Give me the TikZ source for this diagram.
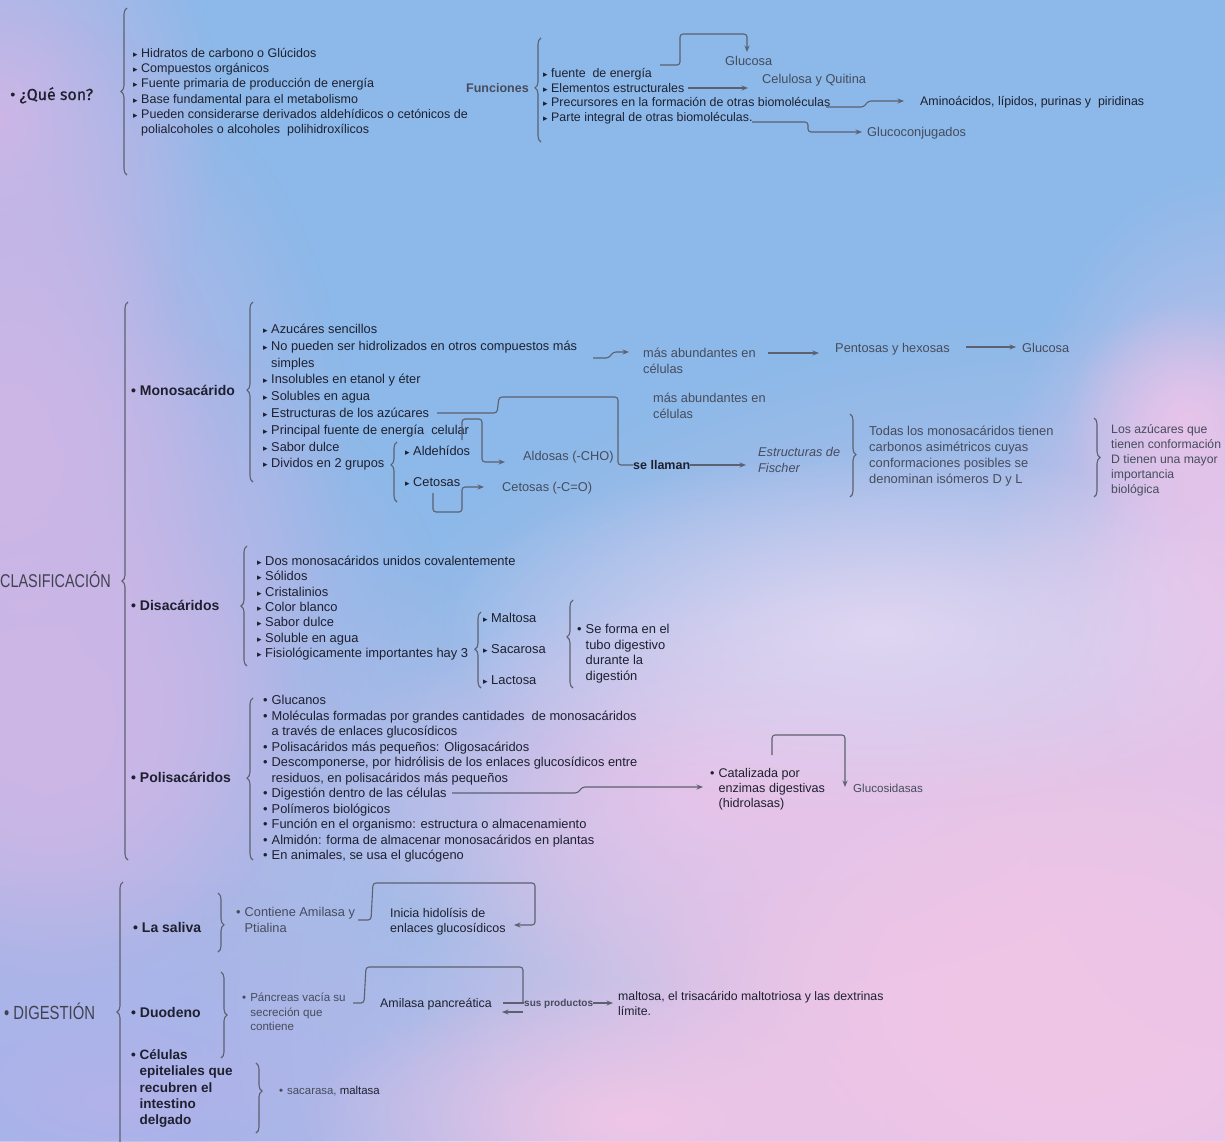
\documentclass[tikz,border=0pt]{standalone}
\usepackage{fontspec}
\setmainfont{Liberation Sans}
\newfontfamily\condfont[FakeStretch=0.78]{Liberation Sans}
\newfontfamily\headfont[FakeBold=0.6]{Fira Sans}
\newfontfamily\symfont{DejaVu Sans}
\usetikzlibrary{arrows.meta,decorations.pathreplacing,fadings}
\definecolor{bgblue}{HTML}{8CB9E9}
\definecolor{ink}{HTML}{1E2030}
\definecolor{soft}{HTML}{464C5C}
\definecolor{wire}{HTML}{5C6170}
\definecolor{pinkA}{HTML}{F0C6E6}
\definecolor{pinkB}{HTML}{E8C4EA}
\definecolor{lavA}{HTML}{CDB6E6}
\definecolor{lavB}{HTML}{B2B2EA}
\definecolor{whiteA}{HTML}{DED6F2}
\tikzfading[name=cloudfade, inner color=transparent!0, outer color=transparent!100]
\newcommand\setfs[2]{\fontsize{#1}{#2}\selectfont}
\newcommand\tri{{\symfont\fontsize{9}{9}\selectfont ▸}\hspace{3.5pt}}
\newcommand\dotb{•\hspace{4pt}}
\tikzset{
  txt/.style={inner sep=0pt, anchor=base west, align=left, text=ink},
  ln/.style={draw=wire, line width=1.1pt, rounded corners=3pt},
  arr/.style={ln, -{Stealth[length=6.5pt,width=5pt]}},
  brc/.style={draw=wire, line width=1.1pt, decorate, decoration={brace, amplitude=6pt}},
  hd/.style={txt, font=\bfseries\setfs{14}{16}},
  fq/.style={txt, font=\setfs{12.5}{15.2}},
  ff/.style={txt, font=\setfs{12.4}{14.5}},
  fm/.style={txt, font=\setfs{12.8}{16.8}},
  fd/.style={txt, font=\setfs{12.9}{15.33}},
  fp/.style={txt, font=\setfs{12.85}{15.5}},
  gr/.style={txt, text=soft, font=\setfs{12.8}{16}},
  cloud/.style={path fading=cloudfade},
}
\begin{document}
\begin{tikzpicture}[x=1pt,y=-1pt]
\useasboundingbox (0,0) rectangle (1225,1141);
% background
\fill[bgblue] (0,0) rectangle (1225,1141);
\fill[lavA, cloud] (0,120) ellipse (220 and 290);
\fill[lavA, cloud] (10,450) ellipse (340 and 440);
\fill[lavA, cloud] (10,450) ellipse (200 and 300);
\fill[lavA, cloud] (60,730) ellipse (420 and 420);
\fill[lavA, cloud] (40,730) ellipse (260 and 260);
\fill[lavB, cloud] (120,1100) ellipse (520 and 220);
\fill[pinkA, cloud] (1090,1000) ellipse (900 and 680);
\fill[pinkA, cloud] (1060,1010) ellipse (640 and 480);
\fill[pinkA, cloud] (1060,1000) ellipse (420 and 300);
\fill[pinkB, cloud] (740,790) ellipse (420 and 200);
\fill[pinkB, cloud] (1225,610) ellipse (240 and 440);
\fill[pinkB, cloud] (1225,610) ellipse (150 and 260);
\fill[whiteA, cloud] (880,630) ellipse (440 and 180);
\fill[pinkB, cloud] (1185,420) ellipse (120 and 120);
\fill[pinkA, cloud] (640,1120) ellipse (340 and 140);

% ===== ¿Qué son?
\node[txt, font=\headfont\setfs{16}{18}] (que) at (10,100) {• ¿Qué son?};
\draw[brc] (127,175) -- (127,8);
\node[fq] (qlist) at (133,133.5) {\tri Hidratos de carbono o Glúcidos\\
\tri Compuestos orgánicos\\
\tri Fuente primaria de producción de energía\\
\tri Base fundamental para el metabolismo\\
\tri Pueden considerarse derivados aldehídicos o cetónicos de\\
\hphantom{\tri}polialcoholes o alcoholes\ \ polihidroxílicos};

% ===== Funciones
\node[txt, text=soft, font=\bfseries\setfs{12.5}{15}] (fun) at (466,92.5) {Funciones};
\draw[brc, decoration={aspect=0.52}] (541,142) -- (541,38);
\node[ff] (flist) at (543,121) {\tri fuente\ \ de energía\\
\tri Elementos estructurales\\
\tri Precursores en la formación de otras biomoléculas\\
\tri Parte integral de otras biomoléculas.};
\node[gr] (gluc1) at (725,65.5) {Glucosa};
\node[gr] (celu) at (762,83) {Celulosa y Quitina};
\node[txt, font=\setfs{12.4}{15}] (amino) at (920,105.5) {Aminoácidos, lípidos, purinas y\ \ piridinas};
\node[gr] (gconj) at (867,136.5) {Glucoconjugados};
\coordinate (f1s) at (660,65); \coordinate (f1e) at (747,52);
\draw[arr] (f1s) -- (680,65) -- (680,34) -- (747,34) -- (f1e);
\coordinate (f2s) at (688,88); \coordinate (f2e) at (748,88);
\draw[arr] (f2s) -- (f2e);
\coordinate (f3s) at (826,107); \coordinate (f3e) at (904,101);
\draw[arr] (f3s) -- (864,107) -- (868,101) -- (f3e);
\coordinate (f4s) at (752,122); \coordinate (f4e) at (862,132);
\draw[arr] (f4s) -- (808,122) -- (808,132) -- (f4e);

% ===== CLASIFICACIÓN
\node[txt, anchor=base east, text=ink!85, font=\condfont\setfs{18.5}{20}] (clas) at (111,587) {CLASIFICACIÓN};
\draw[brc] (128,860) -- (128,302);

% Monosacárido
\node[hd] (mono) at (131,395) {• Monosacárido};
\draw[brc, decoration={aspect=0.51}] (253,482) -- (253,302);
\node[fm] (mlist) at (263,467.9) {\tri Azucáres sencillos\\
\tri No pueden ser hidrolizados en otros compuestos más\\
\hphantom{\tri}simples\\
\tri Insolubles en etanol y éter\\
\tri Solubles en agua\\
\tri Estructuras de los azúcares\\
\tri Principal fuente de energía\ \ celular\\
\tri Sabor dulce\\
\tri Dividos en 2 grupos};
\draw[brc, decoration={aspect=0.62}] (397,502) -- (397,442);
\node[fm] (aldeh) at (405,455.5) {\tri Aldehídos};
\node[fm] (ceto) at (405,486.5) {\tri Cetosas};
\node[gr] (aldosas) at (523,460.5) {Aldosas (-CHO)};
\node[gr] (cetosas) at (502,491.5) {Cetosas (-C=O)};
\coordinate (m1s) at (462,440); \coordinate (m1e) at (505,462);
\draw[arr] (m1s) -- (462,419) -- (482,419) -- (482,462) -- (m1e);
\coordinate (m2s) at (433,493); \coordinate (m2e) at (484,487);
\draw[arr] (m2s) -- (433,512) -- (462,512) -- (462,487) -- (m2e);
\node[gr] (masab1) at (643,373.5) {más abundantes en\\células};
\node[gr] (pento) at (835,352.5) {Pentosas y hexosas};
\node[gr] (gluc2) at (1022,352.5) {Glucosa};
\coordinate (m3s) at (593,358); \coordinate (m3e) at (629,352);
\draw[arr] (m3s) -- (609,358) -- (613,352) -- (m3e);
\coordinate (m4s) at (768,353); \coordinate (m4e) at (819,353);
\draw[arr] (m4s) -- (m4e);
\coordinate (m5s) at (966,347); \coordinate (m5e) at (1016,347);
\draw[arr] (m5s) -- (m5e);
\node[gr] (masab2) at (653,418) {más abundantes en\\células};
\node[txt, font=\bfseries\setfs{12.5}{15}] (llaman) at (633,469) {se llaman};
\coordinate (m6s) at (437,413);
\draw[ln] (m6s) -- (497,413) -- (499,397) -- (618,397) -- (618,465) -- (llaman.west |- 0,465);
\coordinate (m7e) at (746,465);
\draw[arr] (llaman.east |- 0,465) -- (m7e);
\node[gr, font=\itshape\setfs{12.7}{16}] (fischer) at (758,472.5) {Estructuras de\\Fischer};
\draw[brc, decoration={aspect=0.49}] (850,414) -- (850,497);
\node[gr, font=\setfs{12.9}{16}] (todas) at (869,483.5) {Todas los monosacáridos tienen\\
carbonos asimétricos cuyas\\
conformaciones posibles se\\
denominan isómeros D y L};
\draw[brc, decoration={aspect=0.5}] (1094,418) -- (1094,497);
\node[gr, font=\setfs{12.2}{15}] (azuc) at (1111,493.5) {Los azúcares que\\
tienen conformación\\
D tienen una mayor\\
importancia\\
biológica};

% Disacáridos
\node[hd] (disa) at (131,610.5) {• Disacáridos};
\draw[brc, decoration={aspect=0.5}] (247,666) -- (247,546);
\node[fd] (dlist) at (257,657.5) {\tri Dos monosacáridos unidos covalentemente\\
\tri Sólidos\\
\tri Cristalinios\\
\tri Color blanco\\
\tri Sabor dulce\\
\tri Soluble en agua\\
\tri Fisiológicamente importantes hay 3};
\draw[brc, decoration={aspect=0.51}] (481,688) -- (481,612);
\node[fd] (malt) at (483,622.5) {\tri Maltosa};
\node[fd] (saca) at (483,653.5) {\tri Sacarosa};
\node[fd] (lact) at (483,684.5) {\tri Lactosa};
\draw[brc, decoration={aspect=0.58}] (573,688) -- (573,600);
\node[txt, font=\setfs{12.9}{15.6}] (forma) at (577,680.3) {\dotb Se forma en el\\
\hphantom{\dotb}tubo digestivo\\
\hphantom{\dotb}durante la\\
\hphantom{\dotb}digestión};

% Polisacáridos
\node[hd] (poli) at (131,782.5) {• Polisacáridos};
\draw[brc, decoration={aspect=0.506}] (253,860) -- (253,698);
\node[fp] (plist) at (263,859.5) {\dotb Glucanos\\
\dotb Moléculas formadas por grandes cantidades\ \ de monosacáridos\\
\hphantom{\dotb}a través de enlaces glucosídicos\\
\dotb Polisacáridos más pequeños: Oligosacáridos\\
\dotb Descomponerse, por hidrólisis de los enlaces glucosídicos entre\\
\hphantom{\dotb}residuos, en polisacáridos más pequeños\\
\dotb Digestión dentro de las células\\
\dotb Polímeros biológicos\\
\dotb Función en el organismo: estructura o almacenamiento\\
\dotb Almidón: forma de almacenar monosacáridos en plantas\\
\dotb En animales, se usa el glucógeno};
\node[txt, font=\setfs{12.6}{15}] (catal) at (710,807.5) {\dotb Catalizada por\\
\hphantom{\dotb}enzimas digestivas\\
\hphantom{\dotb}(hidrolasas)};
\node[gr, font=\setfs{11.6}{15}] (glcs) at (853,792.5) {Glucosidasas};
\coordinate (p1s) at (452,793); \coordinate (p1e) at (703,787);
\draw[arr] (p1s) -- (578,793) -- (582,787) -- (p1e);
\coordinate (p2s) at (772,755); \coordinate (p2e) at (845,787);
\draw[arr] (p2s) -- (772,735) -- (845,735) -- (p2e);

% ===== DIGESTIÓN
\node[txt, text=ink!85, font=\condfont\setfs{19}{20}] (dig) at (4,1019) {• DIGESTIÓN};
\draw[brc, decoration={aspect=0.515}] (123,1150) -- (123,882);
\node[hd] (saliva) at (133,932) {• La saliva};
\draw[brc, decoration={aspect=0.54}] (218,893) -- (218,952);
\node[gr] (contiene) at (236,932.5) {\dotb Contiene Amilasa y\\\hphantom{\dotb}Ptialina};
\node[txt, font=\setfs{12.5}{15}] (inicia) at (390,932.5) {Inicia hidolísis de\\enlaces glucosídicos};
\coordinate (d1s) at (358,920); \coordinate (d1e) at (514,925);
\draw[arr] (d1s) -- (371,920) -- (373,883) -- (535,883) -- (535,925) -- (d1e);
\node[hd] (duod) at (131,1017) {• Duodeno};
\draw[brc, decoration={aspect=0.5}] (221,972) -- (221,1058);
\node[gr, font=\setfs{11.6}{14.5}] (pancreas) at (242,1030.5) {\dotb Páncreas vacía su\\
\hphantom{\dotb}secreción que\\
\hphantom{\dotb}contiene};
\node[txt, font=\setfs{12.4}{15}] (amil) at (380,1007.5) {Amilasa pancreática};
\coordinate (d2s) at (353,1003);
\draw[ln] (d2s) -- (364,1003) -- (366,967) -- (523,967) -- (523,1003);
\node[txt, text=soft, font=\bfseries\setfs{10}{12}] (sus) at (524,1006.5) {sus productos};
\coordinate (d3s) at (503,1003);
\draw[ln] (d3s) -- (sus.west |- 0,1003);
\coordinate (d4e) at (613,1003);
\draw[arr] (sus.east |- 0,1003) -- (d4e);
\coordinate (d5s) at (523,1012); \coordinate (d5e) at (502,1012);
\draw[arr] (d5s) -- (d5e);
\node[txt, font=\setfs{12.3}{14.5}] (malto) at (618,1015) {maltosa, el trisacárido maltotriosa y las dextrinas\\límite.};
\node[hd, font=\bfseries\setfs{13.5}{16.3}] (celulas) at (131,1124.7) {• Células\\
\hphantom{• }epiteliales que\\
\hphantom{• }recubren el\\
\hphantom{• }intestino\\
\hphantom{• }delgado};
\draw[brc, decoration={aspect=0.4}] (256,1063) -- (256,1133);
\node[gr, font=\setfs{11.4}{12}] (sacar) at (279,1094.5) {\dotb sacarasa, \textcolor{ink}{maltasa}};
\end{tikzpicture}
\end{document}
